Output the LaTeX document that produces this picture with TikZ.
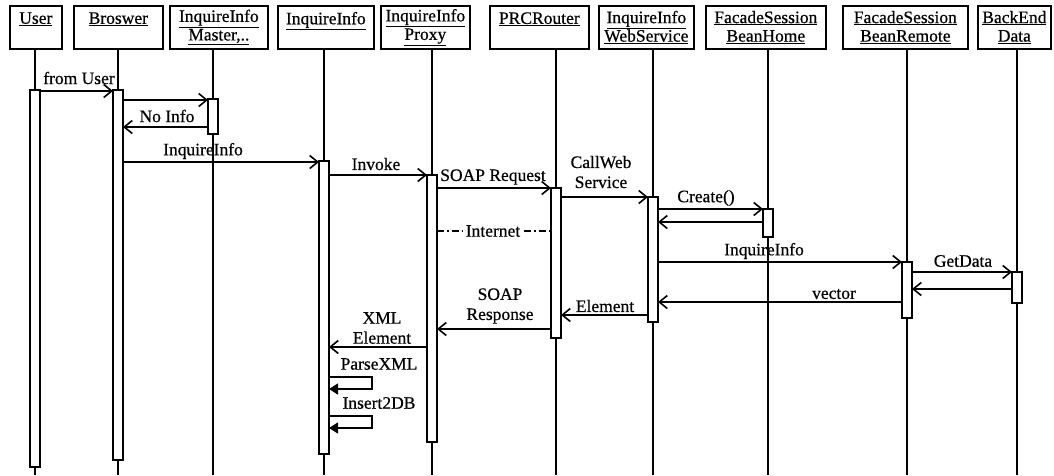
\documentclass[tikz,border=0pt]{standalone}
\usepackage{fontspec}
\setmainfont{Liberation Serif}[FakeBold=0.6]
\usetikzlibrary{arrows.meta}
\begin{document}
\begin{tikzpicture}[x=1pt,y=-1pt,
  hdr/.style={draw, line width=1.7pt, inner sep=0pt, align=center, anchor=north west,
    minimum height=43pt, font=\fontsize{17.5}{18.5}\selectfont},
  life/.style={line width=1.5pt},
  actbar/.style={draw, line width=1.5pt, fill=white},
  msg/.style={line width=1.6pt, -{Straight Barb[length=8pt,width=13pt,line width=1.6pt]}},
  selfmsg/.style={line width=1.6pt, -{Triangle[length=9pt,width=11pt]}},
  inet/.style={line width=1.3pt, dash pattern=on 7pt off 3pt on 1.5pt off 3pt},
  lbl/.style={font=\fontsize{17.5}{20}\selectfont, inner sep=0pt, align=center}]
\useasboundingbox (0,0) rectangle (1054,475);
% header boxes
\node[hdr, minimum width=52pt]  (hU) at (9,5)   {\underline{User}\\\mbox{}};
\node[hdr, minimum width=89pt]  (hB) at (73,5)  {\underline{Broswer}\\\mbox{}};
\node[hdr, minimum width=98pt]  (hM) at (169,5) {\underline{InquireInfo}\\\underline{Master,..}};
\node[hdr, minimum width=96pt]  (hI) at (277,5) {\underline{InquireInfo}\\\mbox{}};
\node[hdr, minimum width=89pt]  (hP) at (380,5) {\underline{InquireInfo}\\\underline{Proxy}};
\node[hdr, minimum width=99pt]  (hR) at (489,5) {\underline{PRCRouter}\\\mbox{}};
\node[hdr, minimum width=95pt]  (hW) at (598,5) {\underline{InquireInfo}\\\underline{WebService}};
\node[hdr, minimum width=120pt] (hH) at (705,5) {\underline{FacadeSession}\\\underline{BeanHome}};
\node[hdr, minimum width=125pt] (hE) at (842,5) {\underline{FacadeSession}\\\underline{BeanRemote}};
\node[hdr, minimum width=73pt]  (hD) at (977,5) {\underline{BackEnd}\\\underline{Data}};
% lifeline tops and bottoms
\foreach \n/\x in {U/35,B/118,M/213,I/324,P/432,R/556,W/653,H/768,E/907,D/1017}{
  \coordinate (t\n) at (\x,48);
  \coordinate (e\n) at (\x,475);
}
\foreach \n in {U,B,M,I,P,R,W,H,E,D}{ \draw[life] (t\n) -- (e\n); }
% activation bars
\foreach \n/\x/\ya/\yb in {U/35/90/467, B/118/90/460, M/213/99/134, I/324/161/454,
  P/432/175/442, R/556/188/338, W/653/197/322, H/768/209/237, E/907/262/318, D/1017/272/303}{
  \draw[actbar] (\x-5,\ya) rectangle (\x+5,\yb);
}
% message end points
\coordinate (m1a) at (40,91);   \coordinate (m1b) at (113,91);
\coordinate (m2a) at (123,100); \coordinate (m2b) at (208,100);
\coordinate (m3a) at (208,127); \coordinate (m3b) at (123,127);
\coordinate (m4a) at (123,162); \coordinate (m4b) at (319,162);
\coordinate (m5a) at (329,175); \coordinate (m5b) at (427,175);
\coordinate (m6a) at (437,188); \coordinate (m6b) at (551,188);
\coordinate (m7a) at (561,197); \coordinate (m7b) at (648,197);
\coordinate (m8a) at (658,209); \coordinate (m8b) at (763,209);
\coordinate (m9a) at (763,222); \coordinate (m9b) at (658,222);
\coordinate (nta) at (437,231); \coordinate (ntb) at (551,231);
\coordinate (m10a) at (658,262); \coordinate (m10b) at (902,262);
\coordinate (m11a) at (912,272); \coordinate (m11b) at (1012,272);
\coordinate (m12a) at (1012,289); \coordinate (m12b) at (912,289);
\coordinate (m13a) at (902,302); \coordinate (m13b) at (658,302);
\coordinate (m14a) at (648,315); \coordinate (m14b) at (561,315);
\coordinate (m15a) at (551,329); \coordinate (m15b) at (437,329);
\coordinate (m16a) at (427,347); \coordinate (m16b) at (329,347);
\coordinate (s1a) at (329,377); \coordinate (s1b) at (372,377);
\coordinate (s1c) at (372,389); \coordinate (s1d) at (329,389);
\coordinate (s2a) at (329,416); \coordinate (s2b) at (372,416);
\coordinate (s2c) at (372,428); \coordinate (s2d) at (329,428);
% messages
\draw[msg] (m1a) -- (m1b);
\draw[msg] (m2a) -- (m2b);
\draw[msg] (m3a) -- (m3b);
\draw[msg] (m4a) -- (m4b);
\draw[msg] (m5a) -- (m5b);
\draw[msg] (m6a) -- (m6b);
\draw[msg] (m7a) -- (m7b);
\draw[msg] (m8a) -- (m8b);
\draw[msg] (m9a) -- (m9b);
\draw[inet] (nta) -- (ntb);
\draw[msg] (m10a) -- (m10b);
\draw[msg] (m11a) -- (m11b);
\draw[msg] (m12a) -- (m12b);
\draw[msg] (m13a) -- (m13b);
\draw[msg] (m14a) -- (m14b);
\draw[msg] (m15a) -- (m15b);
\draw[msg] (m16a) -- (m16b);
\draw[selfmsg] (s1a) -- (s1b) -- (s1c) -- (s1d);
\draw[selfmsg] (s2a) -- (s2b) -- (s2c) -- (s2d);
% labels
\node[lbl] (l1) at (79,78) {from User};
\node[lbl] (l3) at (167,116) {No Info};
\node[lbl] (l4) at (203,151) {InquireInfo};
\node[lbl] (l5) at (376,164) {Invoke};
\node[lbl] (l6) at (493,177) {SOAP Request};
\node[lbl] (l7) at (601,172) {CallWeb\\Service};
\node[lbl] (l8) at (706,198) {Create()};
\node[lbl, fill=white, inner xsep=2pt] (lnt) at (493,231) {Internet};
\node[lbl] (l10) at (764,251) {InquireInfo};
\node[lbl] (l11) at (963,261) {GetData};
\node[lbl] (l13) at (834,294) {vector};
\node[lbl] (l14) at (605,306) {Element};
\node[lbl] (l15) at (500,306) {SOAP\\Response};
\node[lbl] (l16) at (382,328) {XML\\Element};
\node[lbl] (ls1) at (379,364) {ParseXML};
\node[lbl] (ls2) at (379,403) {Insert2DB};
\end{tikzpicture}
\end{document}
